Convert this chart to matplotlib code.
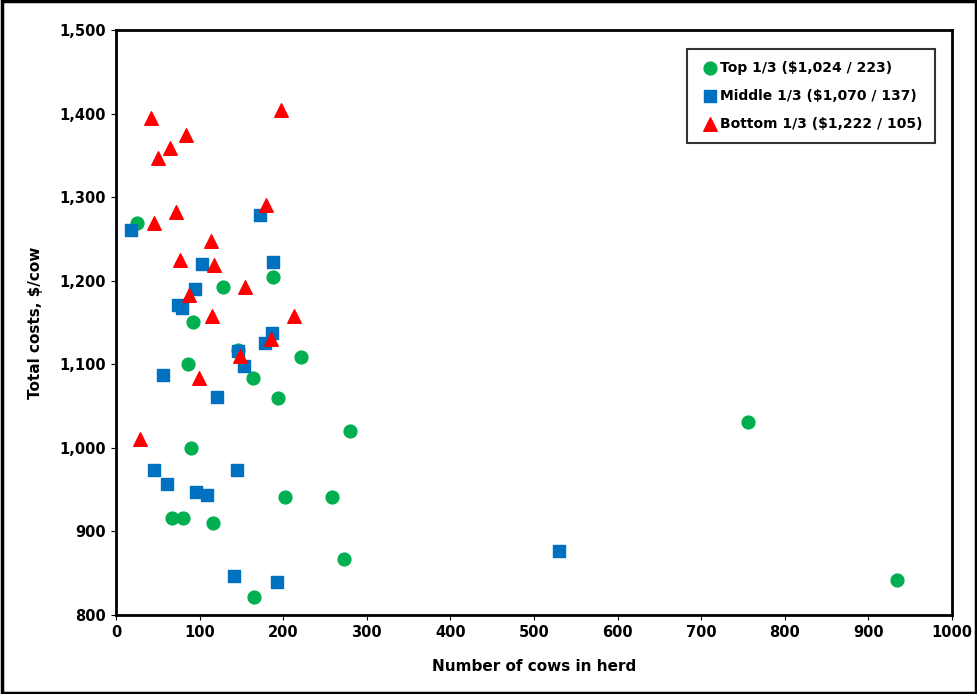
import numpy as np
import matplotlib.pyplot as plt

top_x = [25, 128, 188, 92, 86, 146, 221, 164, 194, 280, 90, 67, 80, 116, 258, 202, 273, 165, 756, 934]
top_y = [1269, 1193, 1205, 1151, 1100, 1117, 1109, 1084, 1060, 1020, 1000, 916, 916, 910, 941, 941, 867, 821, 1031, 842]

mid_x = [18, 172, 103, 188, 94, 74, 79, 187, 178, 146, 153, 56, 121, 46, 145, 61, 96, 109, 141, 193, 530]
mid_y = [1261, 1279, 1220, 1222, 1190, 1171, 1167, 1138, 1126, 1116, 1098, 1087, 1061, 974, 974, 957, 947, 943, 847, 840, 876]

bot_x = [42, 197, 84, 65, 50, 179, 72, 45, 114, 77, 117, 154, 87, 115, 213, 185, 148, 99, 29]
bot_y = [1395, 1404, 1374, 1359, 1347, 1291, 1282, 1269, 1248, 1225, 1219, 1193, 1183, 1158, 1158, 1130, 1110, 1083, 1011]

fig = plt.figure(figsize=(9.78, 6.94), dpi=100)
ax = fig.add_axes([116/978, 1-615/694, 836/978, 585/694])
ax.scatter(top_x, top_y, marker='o', s=85, color='#00B050', label='Top 1/3 ($1,024 / 223)', zorder=3)
ax.scatter(mid_x, mid_y, marker='s', s=85, color='#0070C0', label='Middle 1/3 ($1,070 / 137)', zorder=3)
ax.scatter(bot_x, bot_y, marker='^', s=95, color='#FF0000', label='Bottom 1/3 ($1,222 / 105)', zorder=3)

ax.set_xlim(0, 1000)
ax.set_ylim(800, 1500)
ax.set_xticks(np.arange(0, 1001, 100))
ax.set_yticks(np.arange(800, 1501, 100))
ax.set_yticklabels(['{:,}'.format(v) for v in range(800, 1501, 100)])
ax.tick_params(labelsize=10.5, direction='out')
for lb in ax.get_xticklabels() + ax.get_yticklabels():
    lb.set_fontweight('bold')
for s in ax.spines.values():
    s.set_linewidth(2)
ax.set_xlabel('Number of cows in herd', fontsize=11, fontweight='bold', labelpad=14)
ax.set_ylabel('Total costs, $/cow', fontsize=11, fontweight='bold', labelpad=12)

leg = ax.legend(loc='upper right', bbox_to_anchor=(0.988, 0.98), prop={'weight': 'bold', 'size': 10},
                handletextpad=0.0, handlelength=1.5, borderpad=0.9, labelspacing=1.0,
                fancybox=False, edgecolor='black')
leg.get_frame().set_linewidth(1.5)

fig.patches.append(plt.Rectangle((0.002, 0.002), 0.996, 0.996, transform=fig.transFigure,
                                 fill=False, edgecolor='black', linewidth=2.5))
fig.savefig('out.png')
